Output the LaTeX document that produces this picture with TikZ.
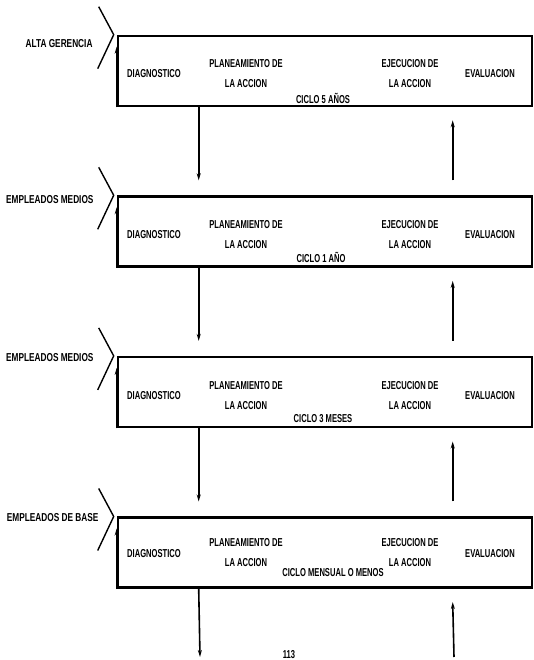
\documentclass[tikz,border=0pt]{standalone}
\usepackage{fontspec}
\setmainfont{Liberation Sans}
\usetikzlibrary{positioning, arrows.meta}
\newcommand{\sqz}[1]{\scalebox{0.66}[1]{#1}}
\newcommand{\sqzl}[1]{\scalebox{0.72}[1]{#1}}

\begin{document}
\begin{tikzpicture}[
            x=1pt, y=1pt,
            stage/.style={draw, line width=2.6pt, minimum width=414pt, minimum height=70pt, inner sep=0pt},
            txt/.style={font=\fontsize{11.5}{20}\selectfont\bfseries, inner sep=0pt, align=center},
            level/.style={txt, anchor=east},
            arrow/.style={-{Stealth[length=7pt, width=4pt]}, line width=1.6pt},
            chevron/.style={line width=1.4pt}
        ]
            \useasboundingbox (0,0) rectangle (534,660);

            \node [stage] (b1) at (325,589) {};
            \node [stage, below=88pt of b1] (b2) {};
            \node [stage, below=88pt of b2] (b3) {};
            \node [stage, below=88pt of b3] (b4) {};

            % levels on the left
            \node [level] (l1) at ([shift={(-24pt,-9pt)}]b1.north west) {\sqzl{ALTA GERENCIA}};
            \node [level] (l2) at ([shift={(-23pt,-4pt)}]b2.north west) {\sqzl{EMPLEADOS MEDIOS}};
            \node [level] (l3) at ([shift={(-23pt,-2pt)}]b3.north west) {\sqzl{EMPLEADOS MEDIOS}};
            \node [level] (l4) at ([shift={(-18pt,-1pt)}]b4.north west) {\sqzl{EMPLEADOS DE BASE}};

            \draw [chevron] ([shift={(-18pt,28pt)}]b1.north west) -- ([xshift=-3pt]b1.north west) -- ([shift={(-19pt,-34pt)}]b1.north west);
            \draw [chevron] ([shift={(-18pt,28pt)}]b2.north west) -- ([xshift=-3pt]b2.north west) -- ([shift={(-19pt,-34pt)}]b2.north west);
            \draw [chevron] ([shift={(-18pt,28pt)}]b3.north west) -- ([xshift=-3pt]b3.north west) -- ([shift={(-19pt,-34pt)}]b3.north west);
            \draw [chevron] ([shift={(-18pt,28pt)}]b4.north west) -- ([xshift=-3pt]b4.north west) -- ([shift={(-19pt,-34pt)}]b4.north west);

            % box 1
            \node [txt] (d1) at ([shift={(-171pt,-3pt)}]b1.center) {\sqz{DIAGNOSTICO}};
            \node [txt] (p1) at ([shift={(-79pt,-3pt)}]b1.center) {\sqz{PLANEAMIENTO DE}\\\sqz{LA ACCION}};
            \node [txt] (c1) at ([shift={(-2pt,-27pt)}]b1.center) {\sqz{CICLO 5 AÑOS}};
            \node [txt] (e1) at ([shift={(85pt,-3pt)}]b1.center) {\sqz{EJECUCION DE}\\\sqz{LA ACCION}};
            \node [txt] (v1) at ([shift={(165pt,-3pt)}]b1.center) {\sqz{EVALUACION}};

            % box 2
            \node [txt] (d2) at ([shift={(-171pt,-3pt)}]b2.center) {\sqz{DIAGNOSTICO}};
            \node [txt] (p2) at ([shift={(-79pt,-3pt)}]b2.center) {\sqz{PLANEAMIENTO DE}\\\sqz{LA ACCION}};
            \node [txt] (c2) at ([shift={(-4pt,-26pt)}]b2.center) {\sqz{CICLO 1 AÑO}};
            \node [txt] (e2) at ([shift={(85pt,-3pt)}]b2.center) {\sqz{EJECUCION DE}\\\sqz{LA ACCION}};
            \node [txt] (v2) at ([shift={(165pt,-3pt)}]b2.center) {\sqz{EVALUACION}};

            % box 3
            \node [txt] (d3) at ([shift={(-171pt,-3pt)}]b3.center) {\sqz{DIAGNOSTICO}};
            \node [txt] (p3) at ([shift={(-79pt,-3pt)}]b3.center) {\sqz{PLANEAMIENTO DE}\\\sqz{LA ACCION}};
            \node [txt] (c3) at ([shift={(-2pt,-26pt)}]b3.center) {\sqz{CICLO 3 MESES}};
            \node [txt] (e3) at ([shift={(85pt,-3pt)}]b3.center) {\sqz{EJECUCION DE}\\\sqz{LA ACCION}};
            \node [txt] (v3) at ([shift={(165pt,-3pt)}]b3.center) {\sqz{EVALUACION}};

            % box 4
            \node [txt] (d4) at ([shift={(-171pt,-1pt)}]b4.center) {\sqz{DIAGNOSTICO}};
            \node [txt] (p4) at ([shift={(-79pt,0pt)}]b4.center) {\sqz{PLANEAMIENTO DE}\\\sqz{LA ACCION}};
            \node [txt] (c4) at ([shift={(8pt,-20pt)}]b4.center) {\sqz{CICLO MENSUAL O MENOS}};
            \node [txt] (e4) at ([shift={(85pt,0pt)}]b4.center) {\sqz{EJECUCION DE}\\\sqz{LA ACCION}};
            \node [txt] (v4) at ([shift={(165pt,-1pt)}]b4.center) {\sqz{EVALUACION}};

            % cycle mark on the left side of each box
            \draw [arrow] (b1.south west) -- ([yshift=-12pt]b1.north west);
            \draw [arrow] (b2.south west) -- ([yshift=-12pt]b2.north west);
            \draw [arrow] (b3.south west) -- ([yshift=-12pt]b3.north west);
            \draw [arrow] (b4.south west) -- ([yshift=-12pt]b4.north west);

            % links between levels
            \draw [arrow] ([xshift=82pt]b1.south west) -- ([shift={(82pt,15pt)}]b2.north west);
            \draw [arrow] ([shift={(336pt,15pt)}]b2.north west) -- ([shift={(336pt,-13pt)}]b1.south west);
            \draw [arrow] ([xshift=82pt]b2.south west) -- ([shift={(82pt,15pt)}]b3.north west);
            \draw [arrow] ([shift={(336pt,15pt)}]b3.north west) -- ([shift={(336pt,-13pt)}]b2.south west);
            \draw [arrow] ([xshift=82pt]b3.south west) -- ([shift={(82pt,15pt)}]b4.north west);
            \draw [arrow] ([shift={(336pt,15pt)}]b4.north west) -- ([shift={(336pt,-13pt)}]b3.south west);

            \coordinate (endl) at (200,3);
            \coordinate (endr) at (454,3);
            \draw [arrow] ([xshift=82pt]b4.south west) -- (endl);
            \draw [arrow] (endr) -- ([shift={(336pt,-13pt)}]b4.south west);

            \node [txt, anchor=south] (pg) at (289,1) {\sqz{113}};
        \end{tikzpicture}
\end{document}
